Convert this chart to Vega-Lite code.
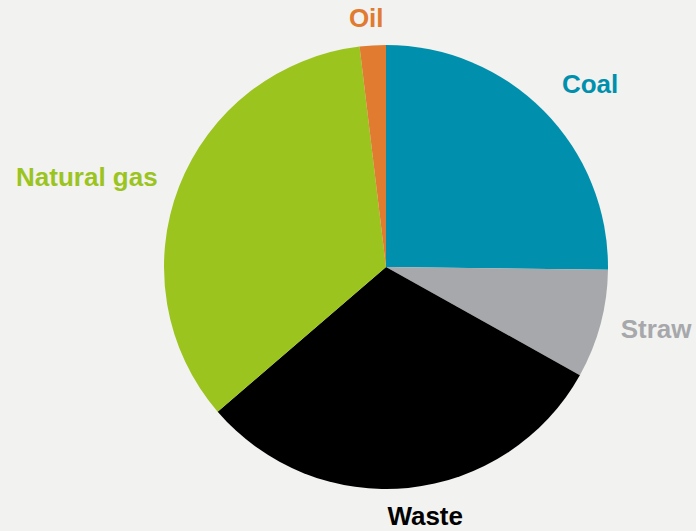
{
  "$schema": "https://vega.github.io/schema/vega-lite/v6.json",
  "autosize": {"type": "none"},
  "width": 620,
  "height": 528,
  "padding": {"left": 76, "top": 3, "right": 0, "bottom": 0},
  "background": "#f2f2f0",
  "config": {"view": {"stroke": null}},
  "data": {"values": [
    {"source": "Coal", "share": 25.2, "idx": 1},
    {"source": "Straw", "share": 7.9, "idx": 2},
    {"source": "Waste", "share": 30.6, "idx": 3},
    {"source": "Natural gas", "share": 34.4, "idx": 4},
    {"source": "Oil", "share": 1.9, "idx": 5}
  ]},
  "transform": [
    {"stack": "share", "groupby": [], "sort": [{"field": "idx", "order": "ascending"}], "as": ["s0", "s1"]},
    {"calculate": "(datum.s0 + datum.s1) / 2", "as": "mid"}
  ],
  "encoding": {
    "color": {
      "field": "source", "type": "nominal", "legend": null,
      "scale": {
        "domain": ["Coal", "Straw", "Waste", "Natural gas", "Oil"],
        "range": ["#0090ad", "#a7a8ab", "#000000", "#9bc41f", "#e07b2f"]
      }
    }
  },
  "layer": [
    {
      "mark": {"type": "arc", "outerRadius": 222},
      "encoding": {
        "theta": {"field": "s0", "type": "quantitative", "scale": {"domain": [0, 100]}},
        "theta2": {"field": "s1"}
      }
    },
    {
      "transform": [{"filter": "datum.source == 'Coal'"}],
      "mark": {"type": "text", "radius": 250, "dx": -2, "dy": -6, "align": "left", "baseline": "middle", "font": "Liberation Sans", "fontWeight": "bold", "fontSize": 26},
      "encoding": {
        "theta": {"field": "mid", "type": "quantitative"},
        "text": {"field": "source"}
      }
    },
    {
      "transform": [{"filter": "datum.source == 'Straw'"}],
      "mark": {"type": "text", "radius": 245, "dx": -2, "align": "left", "baseline": "middle", "font": "Liberation Sans", "fontWeight": "bold", "fontSize": 26},
      "encoding": {
        "theta": {"field": "mid", "type": "quantitative"},
        "text": {"field": "source"}
      }
    },
    {
      "transform": [{"filter": "datum.source == 'Natural gas'"}],
      "mark": {"type": "text", "radius": 245, "align": "right", "baseline": "middle", "font": "Liberation Sans", "fontWeight": "bold", "fontSize": 26},
      "encoding": {
        "theta": {"field": "mid", "type": "quantitative"},
        "text": {"field": "source"}
      }
    },
    {
      "transform": [{"filter": "datum.source == 'Oil'"}],
      "mark": {"type": "text", "radius": 248, "dx": -5, "align": "center", "baseline": "middle", "font": "Liberation Sans", "fontWeight": "bold", "fontSize": 26},
      "encoding": {
        "theta": {"field": "mid", "type": "quantitative"},
        "text": {"field": "source"}
      }
    },
    {
      "transform": [{"filter": "datum.source == 'Waste'"}],
      "mark": {"type": "text", "radius": 251, "dx": 14, "align": "center", "baseline": "middle", "font": "Liberation Sans", "fontWeight": "bold", "fontSize": 26},
      "encoding": {
        "theta": {"field": "mid", "type": "quantitative"},
        "text": {"field": "source"}
      }
    }
  ]
}
